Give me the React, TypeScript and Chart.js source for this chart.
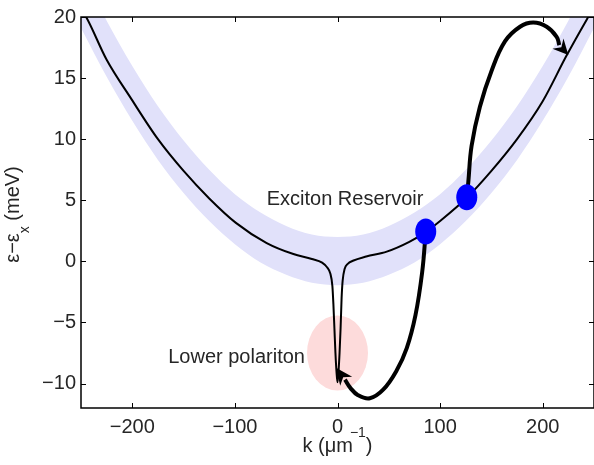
import React, { useEffect, useRef } from "react";
import { Chart, registerables } from "chart.js";
Chart.register(...registerables);

const FONT = '"Liberation Sans", Arial, Helvetica, sans-serif';
const TEXT = "#262626";
const BAND = "rgb(225,225,250)";
const PINK = "rgb(253,219,219)";

// lower polariton dispersion: k (µm^-1) vs ε-εx (meV)
const curveK = [-250, -245, -225, -201, -175, -150, -125, -99, -69, -43, -25, -15, -10, -7, -5, -4, -3, -2, -1, 0, 1, 2, 3, 4, 5, 7, 10, 15, 28, 48, 70, 86, 100, 126, 150, 175, 200, 223, 243, 250];
const curveE = [20.6, 20.0, 16.5, 13.3, 10.0, 7.4, 5.15, 3.15, 1.5, 0.6, 0.2, -0.1, -0.5, -1.0, -2.0, -3.5, -5.5, -7.5, -9.0, -9.9, -9.0, -7.5, -5.5, -3.0, -1.6, -0.6, -0.2, 0.05, 0.4, 0.8, 1.6, 2.4, 3.3, 5.2, 7.4, 10.0, 13.1, 16.8, 19.8, 20.8];

// exciton reservoir band (upper / lower edges)
const bandK = [-250, -225, -200, -175, -150, -125, -100, -75, -50, -25, 0, 25, 50, 75, 100, 125, 150, 175, 200, 225, 250];
const bandUpper = [23.9, 19.7, 16.0, 12.7, 9.9, 7.5, 5.5, 4.0, 2.9, 2.2, 2.0, 2.2, 2.9, 4.0, 5.5, 7.5, 9.9, 12.7, 16.0, 19.7, 23.9];
const bandLower = [19.1, 15.1, 11.5, 8.3, 5.6, 3.3, 1.4, -0.1, -1.1, -1.75, -1.95, -1.75, -1.1, -0.1, 1.4, 3.3, 5.6, 8.3, 11.5, 15.1, 19.1];

// scattering arrows (path, then arrow tip)
const arrow1K = [86, 82.5, 76, 67.5, 57.5, 44.5, 31.5, 20, 12.5, 7.3];
const arrow1E = [2.4, -0.9, -4.4, -7.1, -8.95, -10.5, -11.2, -10.95, -10.35, -9.68];
const arrow2K = [126, 127.5, 130.7, 138.8, 150.2, 163.2, 177.9, 190.8, 203.9, 213.6, 216.2];
const arrow2E = [5.2, 6.5, 9.46, 12.66, 15.6, 18.0, 19.2, 19.54, 19.2, 18.38, 17.7];
const arrowTipK = [-1.5, 225];
const arrowTipE = [-8.7, 16.9];

// reservoir states (blue) and polariton ground state (pink)
const reservoirK = [86, 126];
const reservoirE = [2.45, 5.25];
const polaritonK = [0];
const polaritonE = [-7.5];

const xTicks = [-200, -100, 0, 100, 200];
const yTicks = [-10, -5, 0, 5, 10, 15, 20];

const annotations = [
  { text: "Exciton Reservoir", k: -69, e: 5.1 },
  { text: "Lower polariton", k: -165, e: -7.85 },
];

const pts = (ks: number[], es: number[]) => ks.map((k, i) => ({ x: k, y: es[i] }));
const fmt = (v: any) => String(v).replace("-", "\u2212");

const overlay = {
  id: "overlay",
  beforeDatasetsDraw(chart: any) {
    const { ctx, chartArea: a, scales } = chart;
    const x = scales.x, y = scales.y;
    ctx.save();
    ctx.beginPath();
    ctx.rect(a.left, a.top, a.right - a.left, a.bottom - a.top);
    ctx.clip();
    ctx.fillStyle = PINK;
    polaritonK.forEach((k, i) => {
      ctx.beginPath();
      ctx.ellipse(x.getPixelForValue(k), y.getPixelForValue(polaritonE[i]), 30.5, 37.5, 0, 0, Math.PI * 2);
      ctx.fill();
    });
    ctx.restore();
  },
  afterDatasetsDraw(chart: any) {
    const { ctx, chartArea: a, scales } = chart;
    const x = scales.x, y = scales.y;
    ctx.save();
    // arrow heads
    const paths = [[arrow1K, arrow1E], [arrow2K, arrow2E]];
    ctx.fillStyle = "#000";
    paths.forEach(([ks, es], i) => {
      const bx = x.getPixelForValue(ks[ks.length - 1]);
      const by = y.getPixelForValue(es[es.length - 1]);
      const tx = x.getPixelForValue(arrowTipK[i]);
      const ty = y.getPixelForValue(arrowTipE[i]);
      const dx = tx - bx, dy = ty - by;
      const d = Math.hypot(dx, dy);
      const ux = dx / d, uy = dy / d;
      const px = -uy, py = ux;
      const half = 7.5;
      ctx.beginPath();
      ctx.moveTo(tx, ty);
      ctx.lineTo(bx + px * half - ux * 2, by + py * half - uy * 2);
      ctx.lineTo(bx + ux * 3, by + uy * 3);
      ctx.lineTo(bx - px * half - ux * 2, by - py * half - uy * 2);
      ctx.closePath();
      ctx.fill();
    });
    // reservoir dots
    ctx.fillStyle = "#0000ff";
    reservoirK.forEach((k, i) => {
      ctx.beginPath();
      ctx.ellipse(x.getPixelForValue(k), y.getPixelForValue(reservoirE[i]), 10.5, 13, 0, 0, Math.PI * 2);
      ctx.fill();
    });
    // annotations
    ctx.fillStyle = TEXT;
    ctx.font = `20px ${FONT}`;
    ctx.textAlign = "left";
    ctx.textBaseline = "middle";
    annotations.forEach((t) => {
      ctx.fillText(t.text, x.getPixelForValue(t.k), y.getPixelForValue(t.e));
    });
    // box and inward ticks
    ctx.strokeStyle = "#000";
    ctx.lineWidth = 1.5;
    ctx.strokeRect(a.left, a.top, a.right - a.left, a.bottom - a.top);
    ctx.lineWidth = 1;
    ctx.beginPath();
    xTicks.forEach((v) => {
      const p = Math.round(x.getPixelForValue(v)) + 0.5;
      ctx.moveTo(p, a.bottom);
      ctx.lineTo(p, a.bottom - 5);
      ctx.moveTo(p, a.top);
      ctx.lineTo(p, a.top + 5);
    });
    yTicks.forEach((v) => {
      const p = Math.round(y.getPixelForValue(v)) + 0.5;
      ctx.moveTo(a.left, p);
      ctx.lineTo(a.left + 5, p);
      ctx.moveTo(a.right, p);
      ctx.lineTo(a.right - 5, p);
    });
    ctx.stroke();
    // x title: k (µm^-1)
    ctx.fillStyle = TEXT;
    ctx.textBaseline = "alphabetic";
    const main = "k (\u03bcm";
    const sup = "\u22121";
    const close = ")";
    ctx.font = `20px ${FONT}`;
    const w1 = ctx.measureText(main).width;
    const w3 = ctx.measureText(close).width;
    ctx.font = `14px ${FONT}`;
    const w2 = ctx.measureText(sup).width - 3;
    const cx = (a.left + a.right) / 2;
    let sx = cx - (w1 + w2 + w3) / 2;
    const base = 452;
    ctx.font = `20px ${FONT}`;
    ctx.fillText(main, sx, base);
    sx += w1;
    ctx.font = `14px ${FONT}`;
    ctx.fillText(sup, sx - 3, base - 15);
    sx += w2;
    ctx.font = `20px ${FONT}`;
    ctx.fillText(close, sx, base);
    // y title: ε−εx (meV)
    ctx.save();
    ctx.translate(19, (a.top + a.bottom) / 2 + 2);
    ctx.rotate(-Math.PI / 2);
    const m1 = "\u03b5\u2212\u03b5";
    const s1 = "x";
    const m2 = " (meV)";
    ctx.font = `20px ${FONT}`;
    const v1 = ctx.measureText(m1).width;
    const v3 = ctx.measureText(m2).width;
    ctx.font = `14px ${FONT}`;
    const v2 = ctx.measureText(s1).width;
    let ox = -(v1 + v2 + v3) / 2;
    ctx.font = `20px ${FONT}`;
    ctx.fillText(m1, ox, 0);
    ox += v1;
    ctx.font = `14px ${FONT}`;
    ctx.fillText(s1, ox, 10);
    ox += v2;
    ctx.font = `20px ${FONT}`;
    ctx.fillText(m2, ox, 0);
    ctx.restore();
    ctx.restore();
  },
};

export default function App() {
  const ref = useRef<HTMLCanvasElement | null>(null);
  useEffect(() => {
    document.body.style.margin = "0";
    const canvas = ref.current!;
    const chart = new Chart(canvas, {
      type: "scatter",
      data: {
        datasets: [
          {
            data: pts(bandK, bandUpper),
            showLine: true,
            fill: "+1",
            backgroundColor: BAND,
            borderColor: "rgba(0,0,0,0)",
            borderWidth: 0,
            pointRadius: 0,
            cubicInterpolationMode: "monotone",
            order: 10,
          } as any,
          {
            data: pts(bandK, bandLower),
            showLine: true,
            fill: false,
            borderColor: "rgba(0,0,0,0)",
            borderWidth: 0,
            pointRadius: 0,
            cubicInterpolationMode: "monotone",
            order: 11,
          },
          {
            data: pts(curveK, curveE),
            showLine: true,
            borderColor: "#000",
            borderWidth: 2,
            pointRadius: 0,
            cubicInterpolationMode: "monotone",
            order: 5,
          },
          {
            data: pts(arrow1K, arrow1E),
            showLine: true,
            borderColor: "#000",
            borderWidth: 4,
            pointRadius: 0,
            tension: 0.4,
            borderCapStyle: "butt",
            order: 1,
          },
          {
            data: pts(arrow2K, arrow2E),
            showLine: true,
            borderColor: "#000",
            borderWidth: 4,
            pointRadius: 0,
            tension: 0.4,
            borderCapStyle: "butt",
            order: 1,
          },
        ],
      },
      options: {
        animation: false,
        responsive: false,
        devicePixelRatio: 1,
        layout: { padding: { top: 8, right: 0, left: 0, bottom: 0 } },
        plugins: { legend: { display: false }, tooltip: { enabled: false } },
        scales: {
          x: {
            type: "linear",
            min: -250,
            max: 250,
            grid: { display: false, drawTicks: false },
            border: { display: false },
            ticks: { font: { family: FONT, size: 20 }, color: TEXT, padding: 7, callback: fmt, maxRotation: 0, autoSkip: false },
            afterBuildTicks: (s: any) => {
              s.ticks = xTicks.map((v) => ({ value: v }));
            },
            afterFit: (s: any) => {
              s.height = 57;
            },
          },
          y: {
            type: "linear",
            min: -12,
            max: 20,
            grid: { display: false, drawTicks: false },
            border: { display: false },
            ticks: { font: { family: FONT, size: 20 }, color: TEXT, padding: 5, callback: fmt, autoSkip: false },
            afterBuildTicks: (s: any) => {
              s.ticks = yTicks.map((v) => ({ value: v }));
            },
            afterFit: (s: any) => {
              s.width = 81;
            },
          },
        },
      },
      plugins: [overlay],
    });
    return () => chart.destroy();
  }, []);
  return (
    <div style={{ width: 594, height: 465 }}>
      <canvas ref={ref} width={594} height={465} style={{ display: "block" }} />
    </div>
  );
}
